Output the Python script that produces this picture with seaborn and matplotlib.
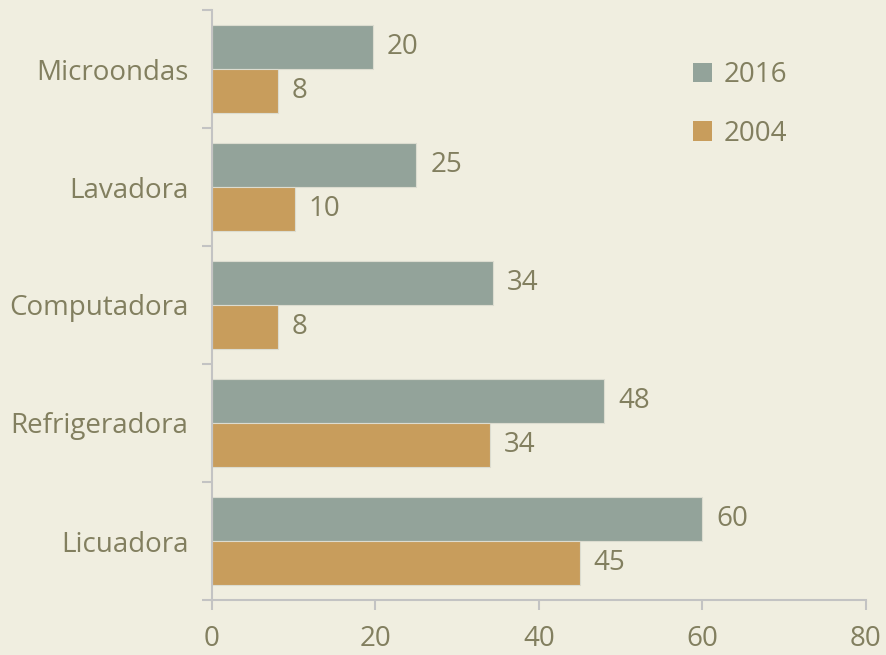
import numpy as np
import pandas as pd
import seaborn as sns
import matplotlib.pyplot as plt
from matplotlib.patches import Patch
from matplotlib.ticker import FixedLocator

categories = ['Microondas', 'Lavadora', 'Computadora', 'Refrigeradora', 'Licuadora']
years = ['2016', '2004']
values_2016 = [19.7, 25.0, 34.4, 48.0, 60.0]
values_2004 = [8.1, 10.1, 8.1, 34.0, 45.0]
x_ticks = [0, 20, 40, 60, 80]

bg = '#f0eee0'
text_color = '#827f5f'
axis_color = '#c3c3c3'
palette = {'2016': '#93a39a', '2004': '#c89d5c'}

sns.set_theme(style='white')
plt.rcParams['font.family'] = ['Open Sans', 'DejaVu Sans']

df = pd.DataFrame({
    'Aparato': categories * 2,
    'Año': ['2016'] * len(categories) + ['2004'] * len(categories),
    'Valor': values_2016 + values_2004,
})

fig = plt.figure(figsize=(8.87, 6.55), dpi=100, facecolor=bg)
ax = fig.add_axes([212 / 887, 55 / 655, (866 - 212) / 887, 590 / 655])
ax.set_facecolor(bg)

sns.barplot(data=df, x='Valor', y='Aparato', hue='Año', order=categories,
            hue_order=years, palette=palette, orient='h', width=0.75,
            edgecolor='#dcdcd0', linewidth=0.8, saturation=1, legend=False, ax=ax)

# data labels
for cont in ax.containers:
    labels = [f'{round(b.get_width()):d}' for b in cont]
    ax.bar_label(cont, labels=labels, padding=10, color=text_color, fontsize=20)

ax.set_xlim(0, 80)
ax.set_ylim(len(categories) - 0.5, -0.5)
ax.set_xticks(x_ticks)
ax.set_xlabel('')
ax.set_ylabel('')

# category ticks at boundaries, labels at centres
ax.yaxis.set_minor_locator(FixedLocator(np.arange(-0.5, len(categories), 1.0)))
ax.tick_params(axis='y', which='major', length=0, pad=17, labelsize=20, labelcolor=text_color)
ax.tick_params(axis='y', which='minor', length=7, width=1.5, color=axis_color, left=True)
ax.tick_params(axis='x', length=7, width=1.5, color=axis_color, pad=11,
               labelsize=20, labelcolor=text_color, bottom=True)

for side in ['top', 'right']:
    ax.spines[side].set_visible(False)
for side in ['left', 'bottom']:
    ax.spines[side].set_color(axis_color)
    ax.spines[side].set_linewidth(1.5)

handles = [Patch(facecolor=palette[y], edgecolor='none', label=y) for y in years]
fig.legend(handles=handles, loc='upper left', bbox_to_anchor=(668 / 887, 1 - 36 / 655),
           frameon=False, fontsize=20, labelcolor=text_color, handlelength=0.7,
           handleheight=0.7, handletextpad=0.4, labelspacing=1.1)

fig.savefig('out.png', dpi=100, facecolor=bg)
